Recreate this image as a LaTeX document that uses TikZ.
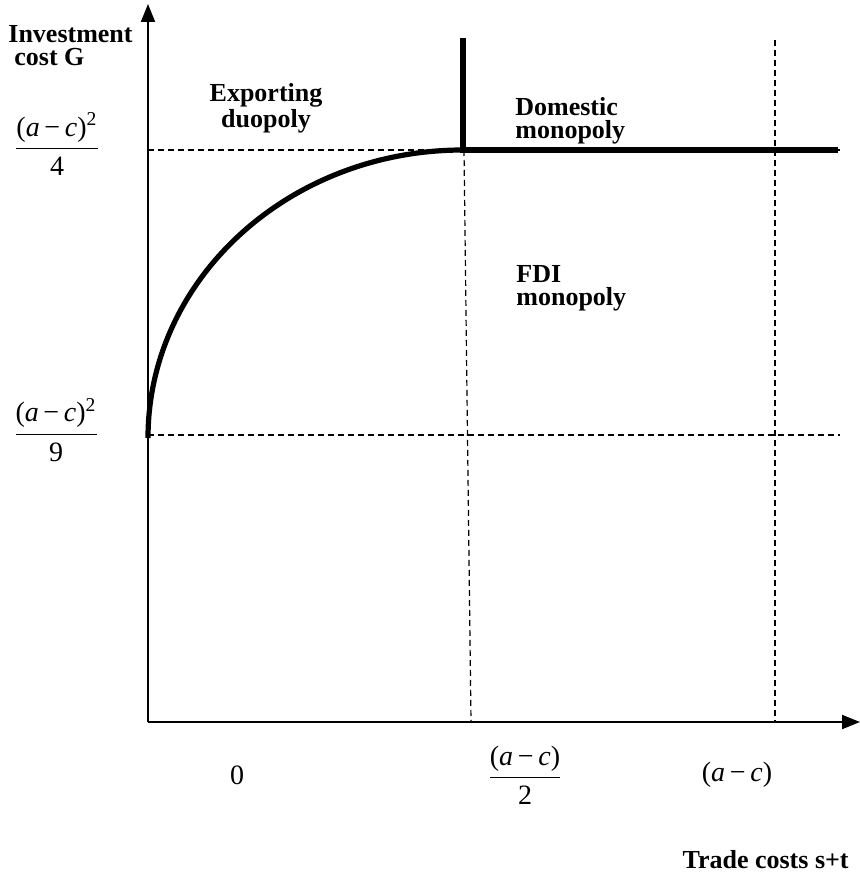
\documentclass[tikz,border=0pt]{standalone}
\usepackage{amsmath}
\usepackage{fontspec}
\setmainfont{Liberation Serif}
\usetikzlibrary{arrows.meta, positioning, calc}

\newcommand{\amc}{(\textit{a}\,−\,\textit{c})}

\begin{document}
\begin{tikzpicture}[
    x=0.5pt, y=-0.5pt,
    axis/.style={line width=1pt, -{Triangle[length=9pt,width=7pt]}},
    guide/.style={line width=0.6pt, dash pattern=on 3pt off 2pt},
    border/.style={line width=2.6pt},
    region/.style={font=\bfseries\fontsize{13}{11.5}\selectfont, align=left, inner sep=0pt, anchor=west},
    tick/.style={font=\fontsize{14}{16}\selectfont, inner sep=0pt}
]
    \useasboundingbox (0,0) rectangle (860,887);

    % axes
    \coordinate (O) at (148,722);
    \coordinate (ytip) at (148,4);
    \coordinate (xtip) at (860,722);
    \draw[axis] (O) -- (ytip);
    \draw[axis] (O) -- (xtip);

    % guide lines
    \coordinate (hi) at (148,150);
    \coordinate (hiend) at (840,150);
    \coordinate (lo) at (148,435);
    \coordinate (loend) at (840,435);
    \coordinate (half) at (464,150);
    \coordinate (halfend) at (471,722);
    \coordinate (full) at (775,40);
    \coordinate (fullend) at (775,722);
    \draw[guide] (hi) -- (hiend);
    \draw[guide] (lo) -- (loend);
    \draw[guide] (half) -- (halfend);
    \draw[guide] (full) -- (fullend);

    % regime borders
    \coordinate (start) at (148,438);
    \coordinate (kink) at (463,150);
    \coordinate (top) at (463,38);
    \coordinate (right) at (838,150);
    \draw[border] (start) arc[start angle=180, end angle=270, x radius=315, y radius=288];
    \draw[border] (top) -- (kink) -- (right);

    % axis labels
    \node[region] (ylab) at (8,46) {Investment\\\hspace{3pt}cost G};
    \node[region, anchor=east] (xlab) at (849,860) {Trade costs s+t};

    \node[tick] (g4) at (57,144) {$\dfrac{\text{\amc\textsuperscript{2}}}{\text{4}}$};
    \node[tick] (g9) at (56,430) {$\dfrac{\text{\amc\textsuperscript{2}}}{\text{9}}$};

    \node[tick] (t0) at (237,775) {0};
    \node[tick] (t2) at (525,775) {$\dfrac{\text{\amc}}{\text{2}}$};
    \node[tick] (t1) at (737,775) {\amc};

    % regimes
    \node[region, align=center, anchor=center] (exp) at (266,108) {Exporting\\duopoly};
    \node[region] (dom) at (515,121) {Domestic\\monopoly};
    \node[region] (fdi) at (516,288) {FDI\\monopoly};
\end{tikzpicture}
\end{document}
